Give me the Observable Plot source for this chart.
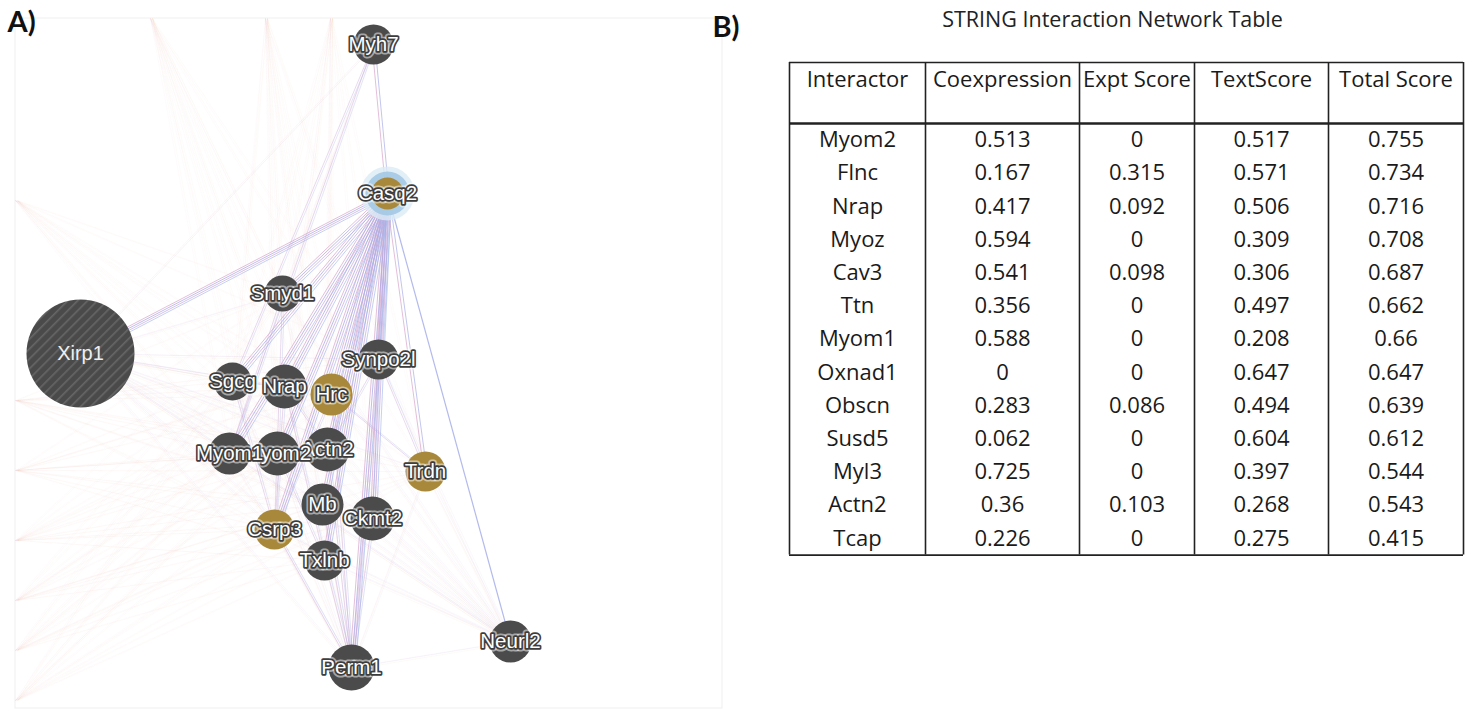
<!DOCTYPE html>
<html><head><meta charset="utf-8">
<script src="https://cdn.jsdelivr.net/npm/d3@7"></script>
<script src="https://cdn.jsdelivr.net/npm/@observablehq/plot@0.6"></script>
<style>
html,body{margin:0;padding:0;background:#fff;}
#wrap{width:1476px;height:710px;overflow:hidden;}
</style>
</head><body><div id="wrap"></div>
<script>
// ---------- Panel A: network (layout coordinates) ----------
const nodeNames = ["Myh7","Casq2","Smyd1","Xirp1","Synpo2l","Hrc","Nrap","Sgcg","Actn2","Myom2","Myom1","Trdn","Ckmt2","Mb","Csrp3","Txlnb","Perm1","Neurl2"];
const nodeX     = [373, 387, 282, 80, 378, 331, 284, 232, 327, 277, 229, 425, 372, 322, 274, 324, 351, 510];
const nodeY     = [44, 193, 293, 353, 359, 394, 386, 381, 449, 453, 453, 471, 518, 504, 529, 560, 667, 641];
const nodeSize  = [20, 16, 18, 54, 20, 21, 22, 19, 22, 22, 21, 20, 22, 21, 20, 20, 23, 21];
const nodeGroup = ["gene","query","gene","xirp","gene","attr","gene","gene","gene","gene","gene","attr","gene","gene","attr","gene","gene","gene"];

// endpoints of edges whose nodes lie outside the cropped view
const ghostX = [150, 265, 330, 15, 15, 15, 15, 15, 15, 15];
const ghostY = [18, 18, 18, 200, 400, 470, 540, 600, 650, 700];

// edge lists
const hubTargets   = ["Xirp1","Smyd1","Synpo2l","Sgcg","Nrap","Hrc","Myom1","Myom2","Actn2","Mb","Ckmt2","Csrp3","Txlnb","Perm1"];
const hubSingle    = ["Neurl2"];
const hubPink      = ["Trdn","Myh7"];
const midPairs = [["Myom1","Myom2"],["Sgcg","Nrap"],["Nrap","Actn2"],["Myom2","Txlnb"],["Sgcg","Csrp3"],["Nrap","Csrp3"],
  ["Hrc","Trdn"],["Synpo2l","Actn2"],["Synpo2l","Ckmt2"],["Synpo2l","Perm1"],["Ckmt2","Perm1"],["Mb","Perm1"],
  ["Actn2","Perm1"],["Hrc","Perm1"],["Smyd1","Myom1"],["Smyd1","Csrp3"],["Nrap","Txlnb"],["Hrc","Csrp3"],
  ["Myh7","Sgcg"],["Myh7","Myom1"],["Synpo2l","Trdn"],["Txlnb","Perm1"],["Csrp3","Perm1"]];
const clusterNames = ["Smyd1","Synpo2l","Sgcg","Nrap","Hrc","Myom1","Myom2","Actn2","Trdn","Mb","Ckmt2","Csrp3","Txlnb"];
const faintSources = ["Xirp1","Neurl2","Perm1"];

// ---------- Panel B: table ----------
const tableTitle = "STRING Interaction Network Table";
const headers = ["Interactor","Coexpression","Expt Score","TextScore","Total Score"];
const interactors = ["Myom2","Flnc","Nrap","Myoz","Cav3","Ttn","Myom1","Oxnad1","Obscn","Susd5","Myl3","Actn2","Tcap"];
const coexpression = [0.513,0.167,0.417,0.594,0.541,0.356,0.588,0,0.283,0.062,0.725,0.36,0.226];
const exptScore    = [0,0.315,0.092,0,0.098,0,0,0,0.086,0,0,0.103,0];
const textScore    = [0.517,0.571,0.506,0.309,0.306,0.497,0.208,0.647,0.494,0.604,0.397,0.268,0.275];
const totalScore   = [0.755,0.734,0.716,0.708,0.687,0.662,0.66,0.647,0.639,0.612,0.544,0.543,0.415];

// ---------- layout constants ----------
const W = 1476, H = 710;
const colEdges = [789, 925, 1079, 1194, 1328, 1463];
const tableTop = 62, headerBottom = 123, rowPitch = 33.2;
const tableBottom = headerBottom + rowPitch * interactors.length;

// ---------- build ----------
const nodes = nodeNames.map((id, i) => ({id, x: nodeX[i], y: nodeY[i], r: nodeSize[i], group: nodeGroup[i]}));
const byId = new Map(nodes.map(d => [d.id, d]));
const ghosts = ghostX.map((x, i) => ({id: "g" + i, x, y: ghostY[i]}));
ghosts.forEach(g => byId.set(g.id, g));

const edge = (a, b) => { const s = byId.get(a), t = byId.get(b); return {x1: s.x, y1: s.y, x2: t.x, y2: t.y}; };
const hubEdges = hubTargets.map(t => edge("Casq2", t));
const hubSingleEdges = hubSingle.map(t => edge("Casq2", t));
const hubPinkEdges = hubPink.map(t => edge("Casq2", t));
const midEdges = midPairs.map(([a, b]) => edge(a, b));
const faintEdges = [];
faintSources.forEach(s => clusterNames.forEach(t => faintEdges.push(edge(s, t))));
const ghostEdges = [];
ghosts.forEach(g => clusterNames.forEach(t => ghostEdges.push(edge(g.id, t))));
faintEdges.push(edge("Xirp1","Perm1"), edge("Xirp1","Neurl2"), edge("Neurl2","Perm1"), edge("Myh7","Xirp1"), edge("Myh7","Smyd1"));

const L = {x1: "x1", y1: "y1", x2: "x2", y2: "y2"};
const colorOf = g => (g === "attr" || g === "query") ? "#a8883a" : "#4b4b4b";
const labelFont = "Liberation Sans, Arial, sans-serif";

const nodeMarks = [];
nodes.forEach(n => {
  if (n.group === "query") {
    nodeMarks.push(Plot.dot([n], {x: "x", y: "y", r: n.r + 11, fill: "#dcebf5", fillOpacity: 0.8}));
    nodeMarks.push(Plot.dot([n], {x: "x", y: "y", r: n.r + 6, fill: "#a3c8e3", fillOpacity: 0.9}));
  }
  nodeMarks.push(Plot.dot([n], {x: "x", y: "y", r: n.r, fill: n.group === "xirp" ? "url(#hatch)" : colorOf(n.group), stroke: "none"}));
  if (n.group === "xirp") {
    nodeMarks.push(Plot.text([n], {x: "x", y: "y", text: "id", fill: "#eeeeee", fontSize: 20, fontFamily: labelFont}));
  } else {
    nodeMarks.push(Plot.text([n], {x: "x", y: "y", text: "id", fill: "white", stroke: "white", strokeOpacity: 0.5, strokeWidth: 7, fontSize: 20.5, letterSpacing: "-0.5px", fontFamily: labelFont}));
    nodeMarks.push(Plot.text([n], {x: "x", y: "y", text: "id", fill: "white", stroke: "#3d3d3d", strokeWidth: 3.4, fontSize: 20.5, letterSpacing: "-0.5px", fontFamily: labelFont}));
  }
});

// table cells
const columns = [interactors, coexpression, exptScore, textScore, totalScore];
const cells = [];
columns.forEach((col, c) => col.forEach((v, r) => cells.push({
  x: (colEdges[c] + colEdges[c + 1]) / 2,
  y: headerBottom + rowPitch * (r + 0.5),
  text: String(v)
})));
const headerCells = headers.map((h, c) => ({x: (colEdges[c] + colEdges[c + 1]) / 2, y: 79, text: h}));
const tableFont = "Open Sans, Noto Sans, sans-serif";

const chart = Plot.plot({
  width: W, height: H,
  margin: 0,
  x: {domain: [0, W], range: [0, W], axis: null},
  y: {domain: [0, H], range: [0, H], axis: null},
  style: {background: "#fff"},
  marks: [
    // faint frame of the network screenshot
    Plot.rect([{x1: 15, x2: 722, y1: 18, y2: 708}], {x1: "x1", x2: "x2", y1: "y1", y2: "y2", fill: "none", stroke: "#efefef", strokeWidth: 1}),
    // faint context edges
    Plot.link(ghostEdges, {...L, stroke: "#e9b9d2", strokeOpacity: 0.06, strokeWidth: 1}),
    Plot.link(ghostEdges, {...L, stroke: "#f2d2a8", strokeOpacity: 0.06, strokeWidth: 1, dx: 2}),
    Plot.link(faintEdges, {...L, stroke: "#e3b6d3", strokeOpacity: 0.12, strokeWidth: 1}),
    Plot.link(faintEdges, {...L, stroke: "#f0d3ae", strokeOpacity: 0.10, strokeWidth: 1, dy: 2}),
    Plot.link(faintEdges, {...L, stroke: "#c9c9f0", strokeOpacity: 0.10, strokeWidth: 1, dx: 2}),
    // medium edges within the cluster
    Plot.link(midEdges, {...L, stroke: "#c9a3d8", strokeOpacity: 0.4, strokeWidth: 1}),
    Plot.link(midEdges, {...L, stroke: "#a9b1e6", strokeOpacity: 0.3, strokeWidth: 1, dx: 2}),
    // Casq2 hub bundles
    Plot.link(hubEdges, {...L, stroke: "#d6a4ca", strokeOpacity: 0.7, strokeWidth: 1, dx: -2, dy: -1}),
    Plot.link(hubEdges, {...L, stroke: "#aaa8e4", strokeOpacity: 0.75, strokeWidth: 1}),
    Plot.link(hubEdges, {...L, stroke: "#c5a8dc", strokeOpacity: 0.7, strokeWidth: 1, dx: 2, dy: 1}),
    Plot.link(hubEdges, {...L, stroke: "#9fb2e8", strokeOpacity: 0.6, strokeWidth: 1, dx: 4, dy: 2}),
    Plot.link(hubPinkEdges, {...L, stroke: "#d6a4ca", strokeOpacity: 0.7, strokeWidth: 1, dx: -1.5}),
    Plot.link(hubPinkEdges, {...L, stroke: "#a9aee6", strokeOpacity: 0.7, strokeWidth: 1, dx: 1.5}),
    Plot.link(hubSingleEdges, {...L, stroke: "#a6aee8", strokeOpacity: 0.85, strokeWidth: 1.2}),
    // nodes + labels (in drawing order)
    ...nodeMarks,
    // panel letters
    Plot.text(["A)"], {x: 7, y: 22, text: d => d, textAnchor: "start", fontSize: 29, fontWeight: "bold", fill: "#111", fontFamily: "Lato, Open Sans, sans-serif"}),
    Plot.text(["B)"], {x: 712, y: 27, text: d => d, textAnchor: "start", fontSize: 29, fontWeight: "bold", fill: "#111", fontFamily: "Lato, Open Sans, sans-serif"}),
    // table title
    Plot.text([tableTitle], {x: 1112, y: 20, text: d => d, fontSize: 21.5, fill: "#222", fontFamily: tableFont}),
    // table grid
    Plot.ruleX(colEdges, {y1: tableTop, y2: tableBottom, stroke: "#222", strokeWidth: 1.6}),
    Plot.ruleY([tableTop, tableBottom], {x1: colEdges[0], x2: colEdges[colEdges.length - 1], stroke: "#222", strokeWidth: 1.6}),
    Plot.ruleY([headerBottom], {x1: colEdges[0], x2: colEdges[colEdges.length - 1], stroke: "#222", strokeWidth: 2.6}),
    // table text
    Plot.text(headerCells, {x: "x", y: "y", text: "text", fontSize: 22, fill: "#1a1a1a", fontFamily: tableFont}),
    Plot.text(cells, {x: "x", y: "y", text: "text", fontSize: 22, fill: "#1a1a1a", fontFamily: tableFont})
  ]
});

// hatch pattern for the large Xirp1 node
const svg = d3.select(chart);
const defs = svg.insert("defs", ":first-child");
const pat = defs.append("pattern").attr("id", "hatch").attr("patternUnits", "userSpaceOnUse")
  .attr("width", 7).attr("height", 7).attr("patternTransform", "rotate(45)");
pat.append("rect").attr("width", 7).attr("height", 7).attr("fill", "#4a4a4a");
pat.append("rect").attr("width", 1.6).attr("height", 7).attr("fill", "#666");

document.getElementById("wrap").appendChild(chart);
</script>
</body></html>
